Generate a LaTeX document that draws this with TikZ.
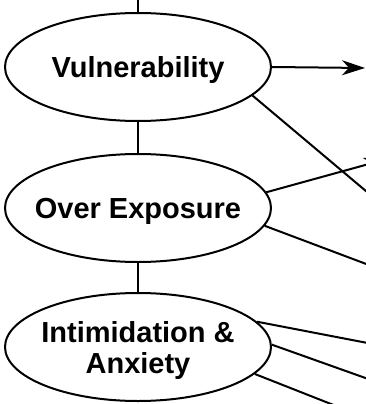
\documentclass[tikz,border=0pt]{standalone}
\usepackage{fontspec}
\setmainfont{Liberation Sans}
\usetikzlibrary{arrows.meta,shapes.geometric}
\begin{document}
\begin{tikzpicture}[x=1pt,y=-1pt,
  bubble/.style={ellipse, draw, line width=2pt, minimum width=266pt,
    minimum height=108pt, inner sep=0pt},
  caption/.style={font=\fontsize{29}{31}\selectfont\bfseries, inner sep=0pt,
    text height=21pt, text depth=0pt},
  twoline/.style={font=\fontsize{29}{31}\selectfont\bfseries, inner sep=0pt,
    align=center, text depth=0pt},
  wire/.style={line width=2pt},
  flow/.style={wire, -{Stealth[length=23pt,width=15pt,inset=7pt]}}]
\useasboundingbox (0,0) rectangle (366,404);
\clip (0,0) rectangle (366,404);

% the three stages
\node[bubble, label={[caption]center:Vulnerability}] (v) at (138,67) {};
\node[bubble, label={[caption]center:Over Exposure}] (o) at (138,208) {};
\node[bubble, label={[twoline]center:{Intimidation \&\\Anxiety}}] (i) at (138,347) {};

% free ends of the outgoing connectors
\coordinate (top) at (138,-10);
\coordinate (t1) at (365,68);
\coordinate (t2) at (430,245);
\coordinate (t3) at (387,159);
\coordinate (t4) at (430,288);
\coordinate (t5) at (430,355);
\coordinate (t6) at (430,401);
\coordinate (t7) at (430,443);

% vertical spine
\draw[wire] (top) -- (v.north);
\draw[wire] (v.south) -- (o.north);
\draw[wire] (o.south) -- (i.north);

% outgoing connectors
\draw[flow] (v.east) -- (t1);
\draw[flow] (v.-14) -- (t2);
\draw[flow] (o.7) -- (t3);
\draw[flow] (o.-8) -- (t4);
\draw[flow] (i.12) -- (t5);
\draw[flow] (i.1) -- (t6);
\draw[flow] (i.-13) -- (t7);
\end{tikzpicture}
\end{document}
